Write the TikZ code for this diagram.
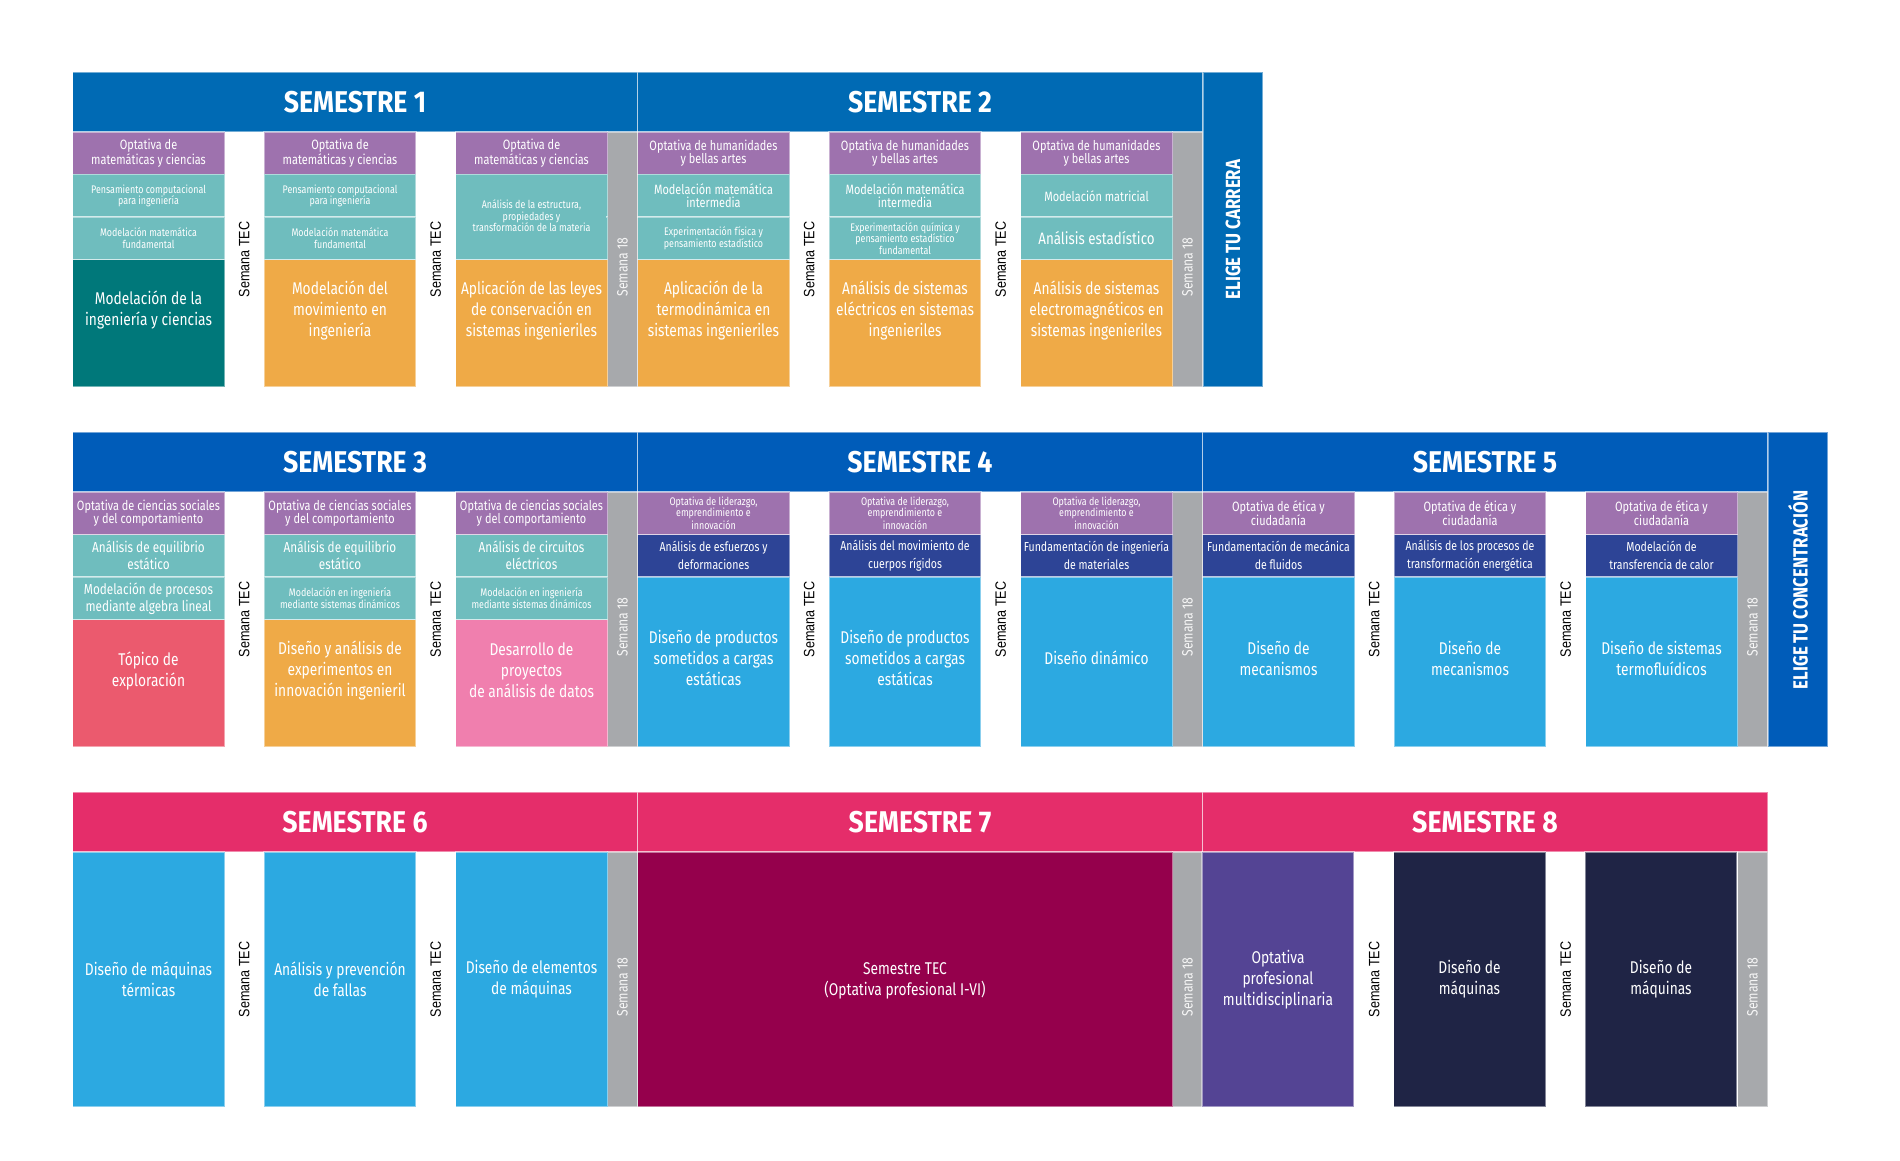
\documentclass[tikz,border=0pt]{standalone}
\usepackage{fontspec}
\setmainfont{Fira Sans}[FakeStretch=0.81]
\newfontfamily\headfont{Fira Sans}[FakeStretch=0.89]
\newfontfamily\eligefont{Fira Sans}[FakeStretch=0.82]
\newfontfamily\tecfont{Liberation Sans}[FakeStretch=0.84]

\definecolor{semblue}{HTML}{006AB4}
\definecolor{sembluer}{HTML}{005CB9}
\definecolor{semred}{HTML}{E52D6A}
\definecolor{optpurple}{HTML}{9E72AE}
\definecolor{tealc}{HTML}{6FBDBE}
\definecolor{darkteal}{HTML}{00787A}
\definecolor{orangec}{HTML}{EFAA47}
\definecolor{grayc}{HTML}{A7A9AC}
\definecolor{coralc}{HTML}{EB5A6E}
\definecolor{pinkc}{HTML}{F07FAE}
\definecolor{inkblue}{HTML}{2D4496}
\definecolor{skyc}{HTML}{2CA9E1}
\definecolor{maroonc}{HTML}{95004C}
\definecolor{violetc}{HTML}{544494}
\definecolor{navyc}{HTML}{1F2445}

\tikzset{
  cell/.style={draw=white, draw opacity=0.45, line width=1.2pt},
  head/.style={font={\headfont\bfseries\fontsize{30}{30}\selectfont}},
  opt/.style={font={\fontsize{13.5}{13.5}\selectfont}},
  mid/.style={font={\fontsize{14.5}{17}\selectfont}},
  sml/.style={font={\fontsize{11}{11.5}\selectfont}},
  dk/.style={font={\fontsize{13}{18}\selectfont}},
  big/.style={font={\fontsize{17}{21}\selectfont}},
  tec/.style={font={\tecfont\fontsize{15}{15}\selectfont}, text=black, rotate=90},
  wk/.style={font={\fontsize{15}{15}\selectfont}, text=white!93!gray, rotate=90},
  elige/.style={font={\eligefont\bfseries\fontsize{20.5}{20.5}\selectfont}, rotate=90},
}

\begin{document}
\begin{tikzpicture}[x=1pt, y=-1pt, every node/.style={text=white, align=center, inner sep=0pt}]
\useasboundingbox (0,0) rectangle (1900,1161);

\foreach \n/\x/\y/\c in {1/72.5/72/semblue, 2/637.5/72/semblue, 3/72.5/432/sembluer, 4/637.5/432/sembluer, 5/1202.5/432/sembluer, 6/72.5/792/semred, 7/637.5/792/semred, 8/1202.5/792/semred}{
  \filldraw[cell, fill=\c] (\x,\y) rectangle ++(565,60);
  \node[head] (sem\n) at (\x+282.5,\y+30) {SEMESTRE \n};
  \filldraw[cell, fill=grayc] (\x+535,\y+60) rectangle ++(30,255);
  \node[wk] (wk\n) at (\x+550,\y+195) {Semana 18};
}

\foreach \x/\y [count=\k] in {72.5/72, 637.5/72, 72.5/432, 637.5/432, 1202.5/432, 72.5/792, 1202.5/792}{
  \node[tec] (teca\k) at (\x+171.75,\y+187.5) {Semana TEC};
  \node[tec] (tecb\k) at (\x+363.25,\y+187.5) {Semana TEC};
}

\filldraw[cell, fill=semblue] (1203,72) rectangle (1263,387);
\node[elige] (carrera) at (1233,229.5) {ELIGE TU CARRERA};
\filldraw[cell, fill=sembluer] (1768,432) rectangle (1828,747);
\node[elige] (concentra) at (1798,590) {ELIGE TU CONCENTRACIÓN};

% semestre 1
\foreach \i/\c in {0/darkteal, 1/orangec, 2/orangec}{
  \filldraw[cell, fill=optpurple] (72.5+\i*191.5,132) rectangle ++(152,42.5);
  \node[opt] (ma\i) at (148.5+\i*191.5,153.25) {Optativa de\\matemáticas y ciencias};
  \filldraw[cell, fill=tealc] (72.5+\i*191.5,174.5) rectangle ++(152,42.5);
  \filldraw[cell, fill=tealc] (72.5+\i*191.5,217) rectangle ++(152,42.5);
  \filldraw[cell, fill=\c] (72.5+\i*191.5,259.5) rectangle ++(152,127.5);
}
\fill[tealc] (456,176) rectangle ++(150,82);
\foreach \i in {0,1}{
  \node[sml] (pc\i) at (148.5+\i*191.5,195.75) {Pensamiento computacional\\para ingeniería};
  \node[sml] (mf\i) at (148.5+\i*191.5,238.25) {Modelación matemática\\fundamental};
}
\node[sml] (estr) at (531.5,216) {Análisis de la estructura,\\propiedades y\\transformación de la materia};
\node[big] (mic) at (148.5,310.5) {Modelación de la\\ingeniería y ciencias};
\node[big] (mov) at (340,310.5) {Modelación del\\movimiento en\\ingeniería};
\node[big] (cons) at (531.5,310.5) {Aplicación de las leyes\\de conservación en\\sistemas ingenieriles};

% semestre 2
\foreach \i in {0,1,2}{
  \filldraw[cell, fill=optpurple] (637.5+\i*191.5,132) rectangle ++(152,42.5);
  \node[opt] (hu\i) at (713.5+\i*191.5,153.25) {Optativa de humanidades\\y bellas artes};
  \filldraw[cell, fill=tealc] (637.5+\i*191.5,174.5) rectangle ++(152,42.5);
  \filldraw[cell, fill=tealc] (637.5+\i*191.5,217) rectangle ++(152,42.5);
  \filldraw[cell, fill=orangec] (637.5+\i*191.5,259.5) rectangle ++(152,127.5);
}
\node[opt] (mi0) at (713.5,195.75) {Modelación matemática\\intermedia};
\node[opt] (mi1) at (905,195.75) {Modelación matemática\\intermedia};
\node[opt] (mmat) at (1096.5,195.75) {Modelación matricial};
\node[sml] (exf) at (713.5,238.25) {Experimentación física y\\pensamiento estadístico};
\node[sml] (exq) at (905,238.25) {Experimentación química y\\pensamiento estadístico\\fundamental};
\node[font={\fontsize{16.5}{16.5}\selectfont}] (aest) at (1096.5,238.25) {Análisis estadístico};
\node[big] (termo) at (713.5,310.5) {Aplicación de la\\termodinámica en\\sistemas ingenieriles};
\node[big] (elec) at (905,310.5) {Análisis de sistemas\\eléctricos en sistemas\\ingenieriles};
\node[big] (emag) at (1096.5,310.5) {Análisis de sistemas\\electromagnéticos en\\sistemas ingenieriles};

% semestre 3
\foreach \i/\c in {0/coralc, 1/orangec, 2/pinkc}{
  \filldraw[cell, fill=optpurple] (72.5+\i*191.5,492) rectangle ++(152,42.5);
  \node[opt] (cs\i) at (148.5+\i*191.5,513.25) {Optativa de ciencias sociales\\y del comportamiento};
  \filldraw[cell, fill=tealc] (72.5+\i*191.5,534.5) rectangle ++(152,42.5);
  \filldraw[cell, fill=tealc] (72.5+\i*191.5,577) rectangle ++(152,42.5);
  \filldraw[cell, fill=\c] (72.5+\i*191.5,619.5) rectangle ++(152,127.5);
}
\node[mid] (eq0) at (148.5,555.75) {Análisis de equilibrio\\estático};
\node[mid] (eq1) at (340,555.75) {Análisis de equilibrio\\estático};
\node[mid] (circ) at (531.5,555.75) {Análisis de circuitos\\eléctricos};
\node[mid] (alg) at (148.5,598.25) {Modelación de procesos\\mediante algebra lineal};
\node[sml] (sd0) at (340,598.25) {Modelación en ingeniería\\mediante sistemas dinámicos};
\node[sml] (sd1) at (531.5,598.25) {Modelación en ingeniería\\mediante sistemas dinámicos};
\node[big] (topi) at (148.5,670.5) {Tópico de\\exploración};
\node[big] (dae) at (340,670.5) {Diseño y análisis de\\experimentos en\\innovación ingenieril};
\node[big] (dpa) at (531.5,670.5) {Desarrollo de\\proyectos\\de análisis de datos};

% semestres 4 y 5
\foreach \x/\t [count=\k] in {637.5/{Optativa de liderazgo,\\emprendimiento e\\innovación}, 1202.5/{Optativa de ética y\\ciudadanía}}{
  \foreach \i in {0,1,2}{
    \filldraw[cell, fill=optpurple] (\x+\i*191.5,492) rectangle ++(152,42.5);
    \filldraw[cell, fill=inkblue] (\x+\i*191.5,534.5) rectangle ++(152,42.5);
    \filldraw[cell, fill=skyc] (\x+\i*191.5,577) rectangle ++(152,170);
    \ifnum\k=1
      \node[sml, font={\fontsize{11}{11}\selectfont}] (lid\i) at (\x+76+\i*191.5,513.25) {\t};
    \else
      \node[opt, font={\fontsize{13.5}{14.5}\selectfont}] (eti\i) at (\x+76+\i*191.5,513.25) {\t};
    \fi
  }
}
\node[dk] (esf) at (713.5,555.75) {Análisis de esfuerzos y\\deformaciones};
\node[dk] (rig) at (905,555.75) {Análisis del movimiento de\\cuerpos rígidos};
\node[dk] (mat) at (1096.5,555.75) {Fundamentación de ingeniería\\de materiales};
\node[big] (dp0) at (713.5,658) {Diseño de productos\\sometidos a cargas\\estáticas};
\node[big] (dp1) at (905,658) {Diseño de productos\\sometidos a cargas\\estáticas};
\node[big] (din) at (1096.5,658) {Diseño dinámico};
\node[dk] (flu) at (1278.5,555.75) {Fundamentación de mecánica\\de fluidos};
\node[dk] (ene) at (1470,555.75) {Análisis de los procesos de\\transformación energética};
\node[dk] (cal) at (1661.5,555.75) {Modelación de\\transferencia de calor};
\node[big] (mec0) at (1278.5,658) {Diseño de\\mecanismos};
\node[big] (mec1) at (1470,658) {Diseño de\\mecanismos};
\node[big] (tfl) at (1661.5,658) {Diseño de sistemas\\termofluídicos};

% semestres 6, 7 y 8
\foreach \i/\c/\t in {0/skyc/{Diseño de máquinas\\térmicas}, 1/skyc/{Análisis y prevención\\de fallas}, 2/skyc/{Diseño de elementos\\de máquinas}, 3/violetc/{Optativa\\profesional\\multidisciplinaria}, 4/navyc/{Diseño de\\máquinas}, 5/navyc/{Diseño de\\máquinas}}{
  \pgfmathsetmacro{\cx}{72.5+\i*191.5+int(\i/3)*555}
  \filldraw[cell, fill=\c] (\cx,852) rectangle ++(152,255);
  \node[big] (ult\i) at (\cx+76,979.5) {\t};
}
\filldraw[cell, fill=maroonc] (637.5,852) rectangle ++(535,255);
\node[big] (stec) at (905,981) {Semestre TEC\\(Optativa profesional I-VI)};

\end{tikzpicture}
\end{document}
